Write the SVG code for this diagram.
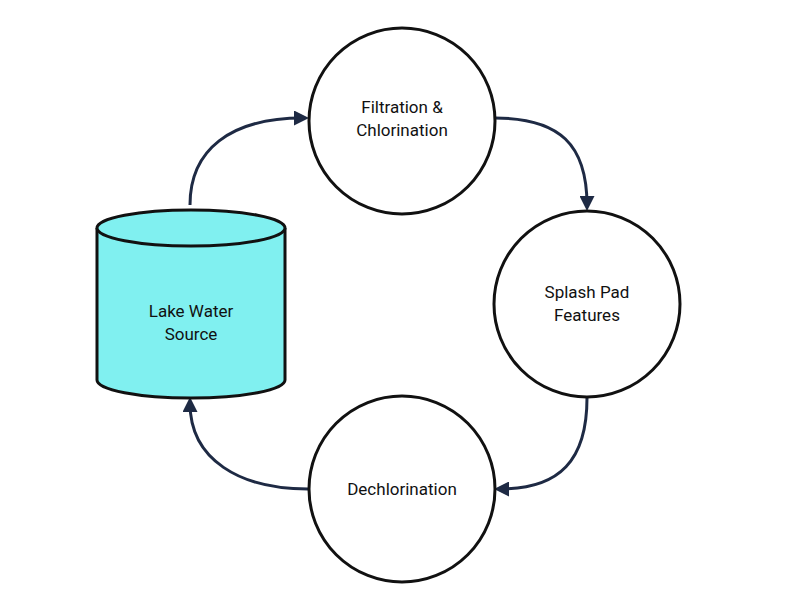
<svg xmlns="http://www.w3.org/2000/svg" width="792" height="612" viewBox="0 0 792 612">
<style>
.n{fill:#fff;stroke:#111;stroke-width:3}
.t{font-family:Roboto,"Liberation Sans",sans-serif;font-size:17px;fill:#111;text-anchor:middle}
.c{fill:none;stroke:#1e2a44;stroke-width:3}
</style>
<defs><marker id="a" viewBox="0 0 10 10" refX="6" refY="5" markerWidth="5" markerHeight="5" orient="auto" markerUnits="strokeWidth"><path d="M0,0 L10,5 L0,10 z" fill="#1e2a44"/></marker></defs>
<rect width="792" height="612" fill="#fff"/>
<g id="connectors">
<path class="c" d="M190,205 C190,150 230,118 303,118" marker-end="url(#a)"/>
<path class="c" d="M495,118 C560,118 587,145 587,205" marker-end="url(#a)"/>
<path class="c" d="M587,398 C587,460 560,489 500,489" marker-end="url(#a)"/>
<path class="c" d="M308,489 C240,489 190,460 190,403" marker-end="url(#a)"/>
</g>
<g id="lake">
<path d="M97,228 L97,380 A94,18 0 0 0 285,380 L285,228" fill="#80F0F0" stroke="#111" stroke-width="3"/>
<ellipse cx="191" cy="228" rx="94" ry="18" fill="#80F0F0" stroke="#111" stroke-width="3"/>
<text class="t" x="191" y="317">Lake Water</text>
<text class="t" x="191" y="340">Source</text>
</g>
<g id="filtration"><circle class="n" cx="402" cy="121" r="93"/>
<text class="t" x="402" y="113">Filtration &amp;</text><text class="t" x="402" y="136">Chlorination</text></g>
<g id="splash"><circle class="n" cx="587" cy="304" r="93"/>
<text class="t" x="587" y="298">Splash Pad</text><text class="t" x="587" y="321">Features</text></g>
<g id="dechl"><circle class="n" cx="402" cy="489" r="93"/>
<text class="t" x="402" y="495">Dechlorination</text></g>
</svg>
